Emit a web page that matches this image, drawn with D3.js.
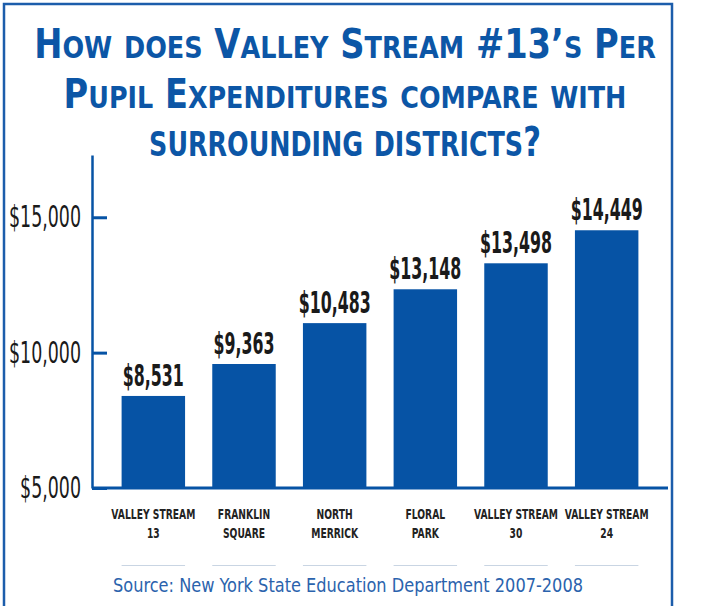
<!DOCTYPE html>
<html>
<head>
<meta charset="utf-8">
<script src="https://cdn.jsdelivr.net/npm/d3@7"></script>
<style>
  body { margin: 0; background: #fff; }
  svg { display: block; }
  text { font-family: "Liberation Sans Narrow", "DejaVu Sans Condensed", "Liberation Sans", sans-serif; }
</style>
</head>
<body>
<div id="chart"></div>
<script>
// districts, two-line labels
const districts = ["Valley Stream 13", "Franklin Square", "North Merrick", "Floral Park", "Valley Stream 30", "Valley Stream 24"];
const labelLines = [["VALLEY STREAM", "13"], ["FRANKLIN", "SQUARE"], ["NORTH", "MERRICK"], ["FLORAL", "PARK"], ["VALLEY STREAM", "30"], ["VALLEY STREAM", "24"]];
// printed per pupil expenditures
const perPupil = [8531, 9363, 10483, 13148, 13498, 14449];
// bar heights as they are drawn in the graphic
const barLevel = [8400, 9580, 11090, 12340, 13300, 14520];
const yTicks = [5000, 10000, 15000];
const titleLines = ["How does Valley Stream #13\u2019s Per", "Pupil Expenditures compare with", "surrounding districts?"];
const source = "Source: New York State Education Department 2007-2008";

const width = 706, height = 606;
const blue = "#0653a5";
const margin = {left: 92, baseline: 488, top: 155};

const svg = d3.select("#chart").append("svg")
    .attr("width", width)
    .attr("height", height);

// frame
svg.append("rect")
    .attr("x", 4).attr("y", 4)
    .attr("width", 668).attr("height", 640)
    .attr("fill", "none")
    .attr("stroke", "#1c5dab")
    .attr("stroke-width", 2.5);

// title, drawn as small caps by hand
const titleW = [622, 563, 392];
const titleY = [58, 108, 156];
titleLines.forEach((line, i) => {
    const t = svg.append("text")
        .attr("text-anchor", "middle")
        .attr("fill", "#0c56a6")
        .attr("font-weight", "bold");
    // split into runs of big / small letters
    let runs = [];
    for (const ch of line) {
        const small = ch !== ch.toUpperCase();
        if (runs.length && runs[runs.length - 1].small === small) runs[runs.length - 1].s += ch;
        else runs.push({s: ch, small: small});
    }
    t.selectAll("tspan").data(runs).join("tspan")
        .attr("font-size", d => d.small ? (i === 2 ? 34 : 31) : 41)
        .text(d => d.s.toUpperCase());
    const w = t.node().getComputedTextLength();
    t.attr("transform", `translate(345,${titleY[i]}) scale(${titleW[i] / w},1)`);
});

// scales
const x = d3.scaleBand()
    .domain(districts)
    .range([108, 652])
    .paddingInner(0.3)
    .paddingOuter(0.15);

const y = d3.scaleLinear()
    .domain([5000, 17300])
    .range([margin.baseline, margin.top]);

// bars
svg.append("g").selectAll("rect")
    .data(districts)
    .join("rect")
    .attr("x", d => x(d))
    .attr("y", (d, i) => y(barLevel[i]))
    .attr("width", x.bandwidth())
    .attr("height", (d, i) => y(5000) - y(barLevel[i]))
    .attr("fill", blue);

// value labels
const vals = svg.append("g").selectAll("text")
    .data(districts)
    .join("text")
    .attr("x", d => x(d) + x.bandwidth() / 2)
    .attr("y", (d, i) => y(barLevel[i]) - 10)
    .attr("text-anchor", "middle")
    .attr("font-size", 30)
    .attr("font-weight", "bold")
    .attr("fill", "#1a1a1a")
    .text((d, i) => d3.format("$,")(perPupil[i]));
let vf = 72 / vals.nodes()[5].getComputedTextLength();
vals.each(function() {
    d3.select(this).attr("textLength", this.getComputedTextLength() * vf)
        .attr("lengthAdjust", "spacingAndGlyphs");
});

// y axis, ticks pointing into the plot
const yAxis = svg.append("g")
    .attr("transform", `translate(${margin.left},0)`)
    .call(d3.axisLeft(y)
        .tickValues(yTicks)
        .tickSize(-15)
        .tickSizeOuter(0)
        .tickPadding(11)
        .tickFormat(d3.format("$,")));
yAxis.select(".domain").attr("stroke", blue).attr("stroke-width", 2.5);
yAxis.selectAll(".tick line").attr("stroke", blue).attr("stroke-width", 3);
const tickText = yAxis.selectAll(".tick text")
    .attr("font-size", 30)
    .attr("fill", "#1a1a1a")
    .attr("font-family", null);
let tf = 72 / tickText.nodes()[2].getComputedTextLength();
tickText.each(function() {
    d3.select(this).attr("textLength", this.getComputedTextLength() * tf)
        .attr("lengthAdjust", "spacingAndGlyphs");
});

// baseline
svg.append("line")
    .attr("x1", margin.left).attr("x2", 668)
    .attr("y1", y(5000)).attr("y2", y(5000))
    .attr("stroke", blue)
    .attr("stroke-width", 3);

// category labels, squeezed horizontally to the narrow face of the original
const cat = svg.append("g").selectAll("text")
    .data(districts)
    .join("text")
    .attr("text-anchor", "middle")
    .attr("font-size", 14)
    .attr("font-weight", "bold")
    .attr("fill", "#222");
cat.selectAll("tspan")
    .data((d, i) => labelLines[i].map(s => ({s: s})))
    .join("tspan")
    .attr("x", 0)
    .attr("y", (d, j) => 519 + j * 19)
    .text(d => d.s);
const ref = cat.selectAll("tspan").nodes()[0];
const cf = 84 / ref.getComputedTextLength();
cat.attr("transform", d => `translate(${x(d) + x.bandwidth() / 2},0) scale(${cf},1)`);

// thin rules under each column
svg.append("g").selectAll("line")
    .data(districts)
    .join("line")
    .attr("x1", d => x(d))
    .attr("x2", d => x(d) + x.bandwidth())
    .attr("y1", 565.5).attr("y2", 565.5)
    .attr("stroke", "#c9d5e3")
    .attr("stroke-width", 1);

// source
svg.append("text")
    .attr("x", 113)
    .attr("y", 592)
    .attr("font-size", 20)
    .attr("fill", "#2b63ad")
    .attr("textLength", 470)
    .attr("lengthAdjust", "spacingAndGlyphs")
    .text(source);
</script>
</body>
</html>
